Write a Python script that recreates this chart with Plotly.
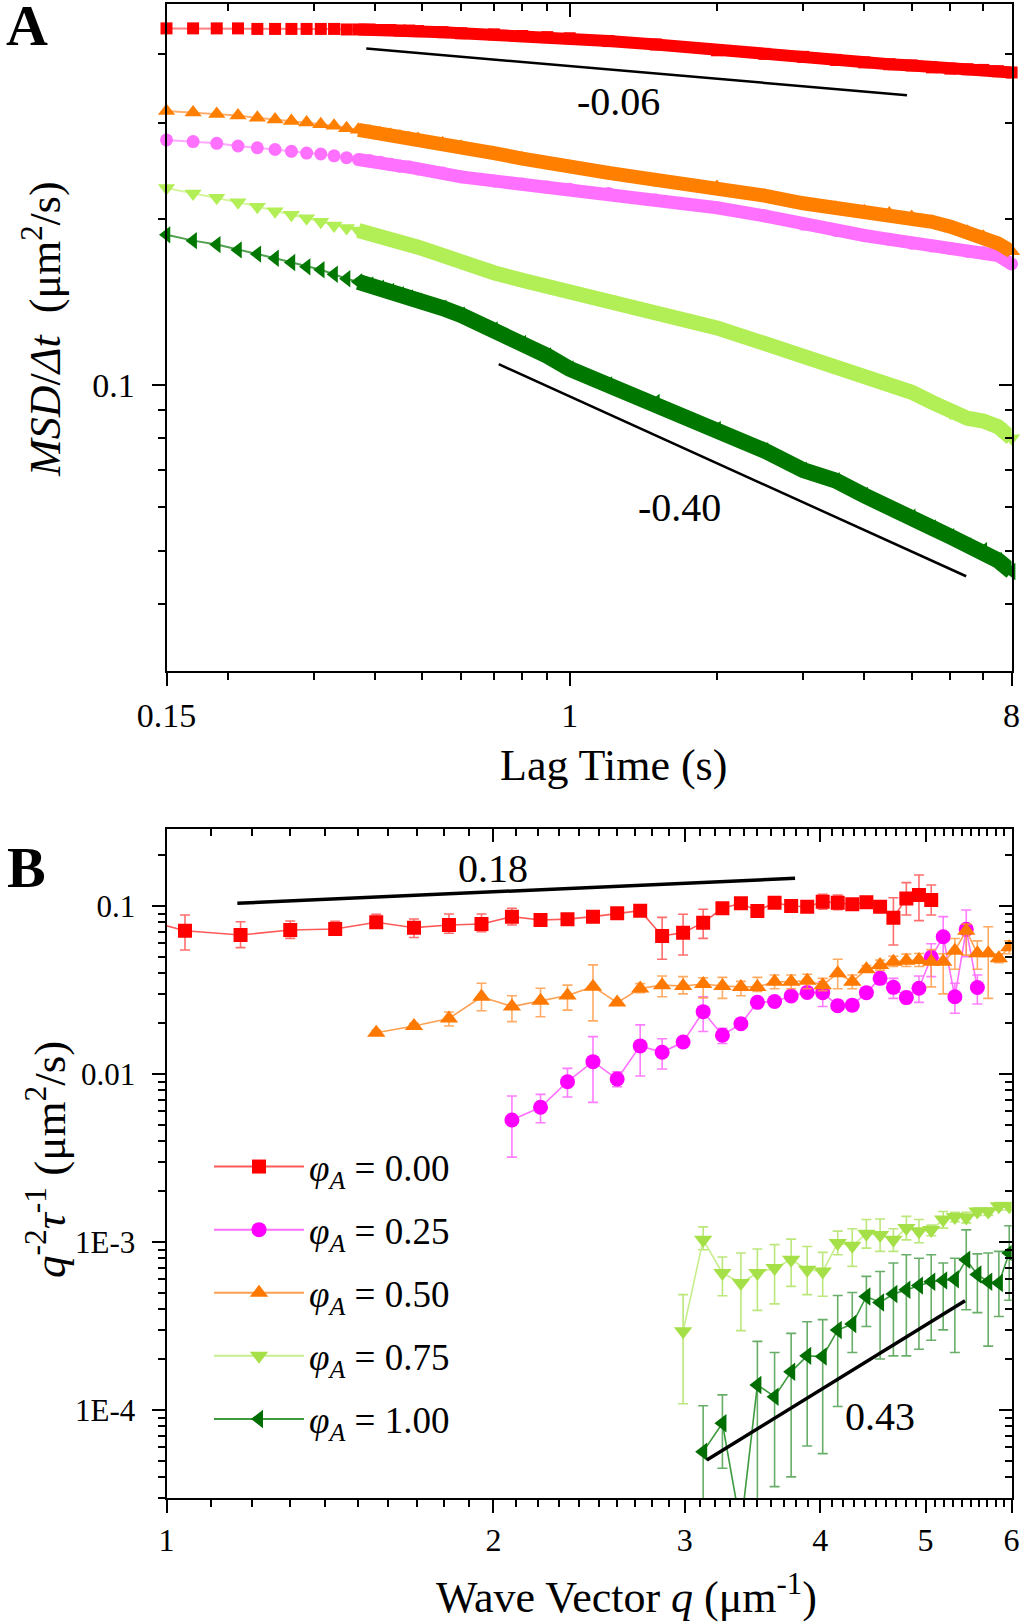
import math
import plotly.graph_objects as go

FONT = "Liberation Serif, Times New Roman, serif"

# ---------------- Panel A data: MSD/dt vs lag time ----------------
lag_time = [0.15, 0.17, 0.19, 0.21, 0.23, 0.25, 0.27, 0.29, 0.31, 0.33, 0.35, 0.37, 0.39,
            0.41, 0.43, 0.45, 0.47, 0.49, 0.55, 0.6, 0.7, 0.8, 0.9, 1.0, 1.2, 1.5, 2.0,
            2.5, 3.0, 3.5, 4.0, 4.5, 5.0, 5.5, 6.0, 6.5, 7.0, 7.5, 8.0]
msd_phi000 = [0.445, 0.445, 0.445, 0.445, 0.444, 0.444, 0.444, 0.444, 0.444, 0.444, 0.443, 0.443,
              0.443, 0.442, 0.442, 0.441, 0.441, 0.440, 0.438, 0.436, 0.434, 0.431, 0.429, 0.427,
              0.422, 0.416, 0.406, 0.400, 0.395, 0.390, 0.386, 0.383, 0.381, 0.378, 0.376, 0.375,
              0.374, 0.372, 0.370]
msd_phi025 = [0.279, 0.277, 0.275, 0.272, 0.270, 0.268, 0.266, 0.264, 0.263, 0.261, 0.259, 0.257,
              0.256, 0.254, 0.252, 0.250, 0.249, 0.247, 0.243, 0.239, 0.235, 0.232, 0.229, 0.227,
              0.223, 0.217, 0.210, 0.203, 0.196, 0.191, 0.187, 0.184, 0.181, 0.179, 0.177, 0.175,
              0.174, 0.172, 0.166]
msd_phi050 = [0.315, 0.313, 0.311, 0.309, 0.306, 0.304, 0.302, 0.300, 0.298, 0.296, 0.293, 0.291,
              0.289, 0.287, 0.285, 0.283, 0.281, 0.280, 0.275, 0.271, 0.264, 0.258, 0.253, 0.249,
              0.243, 0.236, 0.229, 0.221, 0.214, 0.210, 0.207, 0.205, 0.202, 0.198, 0.194, 0.190,
              0.186, 0.181, 0.175]
msd_phi075 = [0.228, 0.223, 0.219, 0.215, 0.211, 0.207, 0.204, 0.201, 0.198, 0.195, 0.193, 0.191,
              0.189, 0.187, 0.184, 0.182, 0.180, 0.178, 0.172, 0.167, 0.160, 0.155, 0.151, 0.148,
              0.143, 0.136, 0.127, 0.119, 0.113, 0.108, 0.104, 0.1005, 0.097, 0.093, 0.089, 0.087,
              0.086, 0.084, 0.080]
msd_phi100 = [0.1875, 0.183, 0.180, 0.176, 0.173, 0.170, 0.167, 0.164, 0.162, 0.159, 0.156, 0.154,
              0.152, 0.150, 0.148, 0.146, 0.144, 0.142, 0.138, 0.134, 0.126, 0.119, 0.113, 0.107,
              0.100, 0.093, 0.083, 0.076, 0.070, 0.067, 0.063, 0.0595, 0.0575, 0.055, 0.053, 0.051,
              0.050, 0.048, 0.0458]
band_start = 11  # from here on the markers overlap into a continuous band

guide_a1_t = [0.384, 4.89]
guide_a1_v = [0.409, 0.3365]
guide_a2_t = [0.716, 6.46]
guide_a2_v = [0.1091, 0.0449]

# ---------------- Panel B data: q^-2 tau^-1 vs wave vector ----------------
wave_vector = [0.91, 1.04, 1.17, 1.30, 1.43, 1.56, 1.69, 1.82, 1.95, 2.08, 2.21, 2.34, 2.47, 2.60,
               2.73, 2.86, 2.99, 3.12, 3.25, 3.38, 3.50, 3.63, 3.76, 3.89, 4.02, 4.15, 4.28, 4.41,
               4.54, 4.67, 4.80, 4.93, 5.06, 5.19, 5.32, 5.45, 5.58, 5.71, 5.84, 5.97]

d_phi000 = [0.090, 0.0713, 0.0672, 0.0720, 0.0730, 0.0800, 0.0743, 0.0770, 0.0781, 0.0864, 0.0825,
            0.0835, 0.0864, 0.0905, 0.0938, 0.0663, 0.0694, 0.0796, 0.0969, 0.1038, 0.0934, 0.1046,
            0.1000, 0.0990, 0.1060, 0.1046, 0.1023, 0.1051, 0.0990, 0.0852, 0.1110, 0.1163, 0.1086]
d_phi000_hi = [0.100, 0.0884, 0.0806, 0.0814, 0.0810, 0.0893, 0.0837, 0.0896, 0.0896, 0.0969, 0.0896,
               0.0900, 0.0930, 0.0960, 0.0990, 0.0856, 0.0893, 0.0956, 0.1028, 0.1096, 0.0980, 0.1110,
               0.1060, 0.1060, 0.1174, 0.1160, 0.1080, 0.1100, 0.1040, 0.1120, 0.1377, 0.1530, 0.1334]
d_phi000_lo = [0.080, 0.0547, 0.0565, 0.0642, 0.0672, 0.0737, 0.0650, 0.0688, 0.0703, 0.0770, 0.0770,
               0.0780, 0.0800, 0.0850, 0.0880, 0.0482, 0.0511, 0.0642, 0.0912, 0.0977, 0.0883, 0.0994,
               0.0950, 0.0930, 0.0956, 0.0950, 0.0970, 0.0990, 0.0940, 0.0586, 0.0884, 0.0818, 0.0884]
start_phi000 = 0

d_phi025 = [0.00532, 0.00634, 0.0090, 0.01184, 0.00933, 0.0147, 0.01346, 0.0155, 0.0235, 0.0170,
            0.0199, 0.0267, 0.0270, 0.0291, 0.0306, 0.0305, 0.0255, 0.0257, 0.0305, 0.0371, 0.0328,
            0.0285, 0.0324, 0.0495, 0.0656, 0.0288, 0.0726, 0.0327]
d_phi025_hi = [0.00739, 0.00756, 0.0108, 0.0167, 0.0103, 0.0196, 0.0162, 0.0165, 0.0288, 0.0187,
               0.0210, 0.0283, 0.0285, 0.0305, 0.0320, 0.0354, 0.0275, 0.0275, 0.0320, 0.0403, 0.0371,
               0.0310, 0.0383, 0.0596, 0.0864, 0.0347, 0.0947, 0.0388]
d_phi025_lo = [0.0032, 0.00513, 0.0073, 0.00678, 0.0084, 0.00973, 0.0107, 0.0146, 0.0179, 0.0152,
               0.0188, 0.0252, 0.0256, 0.0278, 0.0292, 0.0252, 0.0240, 0.0238, 0.0290, 0.0342, 0.0282,
               0.0265, 0.0267, 0.0380, 0.0489, 0.0230, 0.0499, 0.0261]
start_phi025 = 9

d_phi050 = [0.0176, 0.0193, 0.0214, 0.0288, 0.0252, 0.0273, 0.0293, 0.0331, 0.0266, 0.0323, 0.0338,
            0.0334, 0.0343, 0.0334, 0.0330, 0.0330, 0.0354, 0.0354, 0.0359, 0.0338, 0.0398, 0.0354,
            0.0420, 0.0446, 0.0466, 0.0472, 0.0477, 0.0466, 0.0466, 0.0542, 0.0713, 0.0523, 0.0523,
            0.0489, 0.0568]
d_phi050_hi = [0.0182, 0.0200, 0.0234, 0.0347, 0.0292, 0.0324, 0.0338, 0.0446, 0.0275, 0.0345, 0.0383,
               0.0380, 0.0374, 0.0376, 0.0356, 0.0376, 0.0388, 0.0388, 0.0392, 0.0371, 0.0482, 0.0388,
               0.0442, 0.0476, 0.0502, 0.0517, 0.0522, 0.0550, 0.0520, 0.0640, 0.0780, 0.0620, 0.0753,
               0.0520, 0.0620]
d_phi050_lo = [0.0170, 0.0187, 0.0193, 0.0238, 0.0205, 0.0219, 0.0240, 0.0207, 0.0258, 0.0305, 0.0288,
               0.0300, 0.0284, 0.0282, 0.0292, 0.0310, 0.0322, 0.0322, 0.0322, 0.0313, 0.0322, 0.0322,
               0.0405, 0.0415, 0.0436, 0.0436, 0.0436, 0.0330, 0.0300, 0.0420, 0.0510, 0.0420, 0.0282,
               0.0460, 0.0520]
start_phi050 = 5

d_phi075 = [0.000294, 0.00103, 0.000654, 0.00057, 0.000654, 0.00070, 0.000785, 0.000684, 0.000668,
            0.000986, 0.00095, 0.00112, 0.00110, 0.00103, 0.00121, 0.00116, 0.00118, 0.00136, 0.00141,
            0.00140, 0.00152, 0.00152, 0.00163, 0.00163]
d_phi075_hi = [0.000486, 0.00123, 0.000814, 0.00086, 0.000908, 0.000964, 0.00104, 0.00094, 0.000867,
               0.00116, 0.00120, 0.00136, 0.00137, 0.00120, 0.00142, 0.00136, 0.00126, 0.00152, 0.00150,
               0.00150, 0.00160, 0.00160, 0.00172, 0.00172]
d_phi075_lo = [0.000109, 0.00090, 0.000479, 0.000297, 0.000392, 0.000428, 0.000544, 0.000486, 0.000475,
               0.00084, 0.000716, 0.00092, 0.00088, 0.00088, 0.00103, 0.00099, 0.00109, 0.00121, 0.00132,
               0.00130, 0.00144, 0.00144, 0.00155, 0.00155]
start_phi075 = 16

d_phi100 = [5.65e-5, 8.34e-5, 2.0e-5, 1.41e-4, 1.20e-4, 1.69e-4, 2.10e-4, 2.08e-4, 2.99e-4, 3.25e-4,
            4.74e-4, 4.37e-4, 4.90e-4, 5.20e-4, 5.50e-4, 5.80e-4, 5.90e-4, 6.00e-4, 7.85e-4, 6.40e-4,
            5.80e-4, 5.70e-4, 8.60e-4]
d_phi100_hi = [1.06e-4, 1.23e-4, 2.8e-5, 2.56e-4, 2.20e-4, 2.86e-4, 3.35e-4, 3.45e-4, 4.80e-4, 5.00e-4,
               6.24e-4, 6.68e-4, 7.50e-4, 8.40e-4, 8.00e-4, 8.40e-4, 7.50e-4, 8.00e-4, 1.18e-3, 8.50e-4,
               8.60e-4, 8.80e-4, 1.25e-3]
d_phi100_lo = [1.0e-5, 4.5e-5, 1.0e-5, 1.0e-5, 3.5e-5, 4.0e-5, 6.1e-5, 5.5e-5, 1.05e-4, 2.2e-4,
               3.14e-4, 2.01e-4, 2.10e-4, 2.10e-4, 2.30e-4, 2.60e-4, 3.00e-4, 2.20e-4, 3.95e-4, 3.80e-4,
               2.40e-4, 3.60e-4, 4.50e-4]
start_phi100 = 17

guide_b1_q = [1.162, 3.791]
guide_b1_v = [0.1038, 0.1462]
guide_b2_q = [3.144, 5.436]
guide_b2_v = [5.04e-5, 4.47e-4]

phi_labels = ["0.00", "0.25", "0.50", "0.75", "1.00"]

# ---------------- styles ----------------
mark_colors_a = ["#FF0000", "#FF70FF", "#FF7F00", "#B2EE55", "#007800"]
line_colors_a = ["#FF8080", "#FFA8FF", "#FFB070", "#D2F59A", "#4FA04F"]
mark_colors_b = ["#FF0000", "#FF00FF", "#FF7800", "#A6E048", "#006E00"]
line_colors_b = ["#FF5A5A", "#FF70FF", "#FFA050", "#C6EE8C", "#3E9A3E"]
err_colors_b = ["rgba(255,60,60,0.75)", "rgba(255,80,255,0.75)", "rgba(255,150,60,0.8)",
                "rgba(170,225,90,0.8)", "rgba(40,140,40,0.7)"]
symbols = ["square", "circle", "triangle-up", "triangle-down", "triangle-left"]
sizes_a = [12, 13, 15, 15, 15]
band_widths = [12, 13, 14, 15, 16]
sizes_b = [14, 15, 16, 16, 16]

fig = go.Figure()

# Panel A series
series_a = [msd_phi000, msd_phi025, msd_phi050, msd_phi075, msd_phi100]
for i, vals in enumerate(series_a):
    fig.add_trace(go.Scatter(
        x=lag_time, y=vals, mode="lines+markers",
        line=dict(color=line_colors_a[i], width=2),
        marker=dict(symbol=symbols[i], size=sizes_a[i], color=mark_colors_a[i], line=dict(width=0)),
        xaxis="x", yaxis="y", showlegend=False, hoverinfo="skip", cliponaxis=False))
    fig.add_trace(go.Scatter(
        x=lag_time[band_start:], y=vals[band_start:], mode="lines",
        line=dict(color=mark_colors_a[i], width=band_widths[i]), xaxis="x", yaxis="y",
        showlegend=False, hoverinfo="skip", cliponaxis=False))

for gx, gy in [(guide_a1_t, guide_a1_v), (guide_a2_t, guide_a2_v)]:
    fig.add_trace(go.Scatter(x=gx, y=gy, mode="lines", line=dict(color="black", width=2.5),
                             xaxis="x", yaxis="y", showlegend=False, hoverinfo="skip"))

# Panel B series
series_b = [
    (start_phi000, d_phi000, d_phi000_hi, d_phi000_lo),
    (start_phi025, d_phi025, d_phi025_hi, d_phi025_lo),
    (start_phi050, d_phi050, d_phi050_hi, d_phi050_lo),
    (start_phi075, d_phi075, d_phi075_hi, d_phi075_lo),
    (start_phi100, d_phi100, d_phi100_hi, d_phi100_lo),
]
for i, (s, v, hi, lo) in enumerate(series_b):
    qx = wave_vector[s:s + len(v)]
    fig.add_trace(go.Scatter(
        x=qx, y=v, mode="lines+markers",
        line=dict(color=line_colors_b[i], width=1.6),
        marker=dict(symbol=symbols[i], size=sizes_b[i], color=mark_colors_b[i], line=dict(width=0)),
        error_y=dict(type="data", symmetric=False,
                     array=[h - a for h, a in zip(hi, v)],
                     arrayminus=[a - l for l, a in zip(lo, v)],
                     color=err_colors_b[i], thickness=1.6, width=5),
        xaxis="x2", yaxis="y2", showlegend=False, hoverinfo="skip"))

for gx, gy in [(guide_b1_q, guide_b1_v), (guide_b2_q, guide_b2_v)]:
    fig.add_trace(go.Scatter(x=gx, y=gy, mode="lines", line=dict(color="black", width=3.5),
                             xaxis="x2", yaxis="y2", showlegend=False, hoverinfo="skip"))

# legend entries
for i, lab in enumerate(phi_labels):
    fig.add_trace(go.Scatter(
        x=[None], y=[None], mode="lines+markers",
        line=dict(color=line_colors_b[i], width=2),
        marker=dict(symbol=symbols[i], size=sizes_b[i], color=mark_colors_b[i]),
        name="<i>φ</i><sub><i>A</i></sub> = " + lab, legendgroup="g%d" % i,
        xaxis="x2", yaxis="y2", showlegend=True))

# empty traces so that the mirrored (inward tick) axes get drawn
for xa, ya in [("x3", "y"), ("x", "y3"), ("x4", "y2"), ("x2", "y4")]:
    fig.add_trace(go.Scatter(x=[None], y=[None], mode="markers", xaxis=xa, yaxis=ya,
                             showlegend=False, hoverinfo="skip"))

# ---------------- axes ----------------
W, H = 1021, 1622
ax_l, ax_r = 166.5 / W, 1011.6 / W
dom_a = [1 - 671 / H, 1 - 4 / H]
dom_b = [1 - 1498 / H, 1 - 829 / H]

xa_major = [0.15, 1, 8]
xa_minor = [0.2, 0.3, 0.4, 0.5, 0.6, 0.7, 0.8, 0.9, 2, 3, 4, 5, 6, 7]
ya_major = [0.1]
ya_minor = [0.04, 0.05, 0.06, 0.07, 0.08, 0.09, 0.2, 0.3, 0.4]
xb_major = [1, 2, 3, 4, 5, 6]
xb_minor = [round(a + b / 10, 1) for a in range(1, 6) for b in range(1, 10)]
yb_major = [1e-4, 1e-3, 0.01, 0.1]
yb_minor = [m * 10 ** e for e in range(-5, 0) for m in range(2, 10) if 3e-5 <= m * 10 ** e <= 0.29]


def axis(rng, dom, major, text, minor, side, anchor, fsize=32, inside=False, overlay=None,
         show=True, standoff=10):
    d = dict(type="log", range=rng, showgrid=False, zeroline=False, automargin=False,
             tickmode="array", tickvals=major, ticktext=text if show else None,
             showticklabels=show, ticks="inside" if inside else "outside",
             ticklen=13, tickwidth=2, tickcolor="black",
             minor=dict(tickmode="array", tickvals=minor, ticks="inside" if inside else "outside",
                        ticklen=7, tickwidth=1.6, tickcolor="black", showgrid=False),
             tickfont=dict(family=FONT, size=fsize, color="black"),
             side=side, anchor=anchor, fixedrange=True)
    if overlay:
        d["overlaying"] = overlay
        d["showline"] = False
    else:
        d["domain"] = dom
        d["showline"] = True
        d["linecolor"] = "black"
        d["linewidth"] = 2
        d["mirror"] = True
        d["ticklabelstandoff"] = standoff
    return d


xr_a = [math.log10(0.15), math.log10(8)]
yr_a = [-1.52, -0.3073]
xr_b = [0, math.log10(6)]
yr_b = [-4.5238, -0.5417]

fig.update_layout(
    xaxis=axis(xr_a, [ax_l, ax_r], xa_major, ["0.15", "1", "8"], xa_minor, "bottom", "y",
               fsize=34, standoff=0),
    yaxis=axis(yr_a, dom_a, ya_major, ["0.1"], ya_minor, "left", "x", fsize=34),
    xaxis3=axis(xr_a, None, xa_major, None, xa_minor, "top", "y", inside=True, overlay="x", show=False),
    yaxis3=axis(yr_a, None, ya_major, None, ya_minor, "right", "x", inside=True, overlay="y", show=False),
    xaxis2=axis(xr_b, [ax_l, ax_r], xb_major, [str(v) for v in xb_major], xb_minor, "bottom", "y2",
                fsize=32, standoff=0),
    yaxis2=axis(yr_b, dom_b, yb_major, ["1E-4", "1E-3", "0.01", "0.1"], yb_minor, "left", "x2", fsize=31),
    xaxis4=axis(xr_b, None, xb_major, None, xb_minor, "top", "y2", inside=True, overlay="x2", show=False),
    yaxis4=axis(yr_b, None, yb_major, None, yb_minor, "right", "x2", inside=True, overlay="y2", show=False),
)

# ---------------- annotations ----------------
ann = []


def paper_text(txt, x, y, size, angle=0, bold=False):
    if bold:
        txt = "<b>" + txt + "</b>"
    ann.append(dict(text=txt, x=x / W, y=1 - y / H, xref="paper", yref="paper",
                    showarrow=False, textangle=angle, xanchor="center", yanchor="middle",
                    font=dict(family=FONT, size=size, color="black")))


paper_text("A", 27, 25, 58, bold=True)
paper_text("B", 26, 867, 58, bold=True)
paper_text("Lag Time (s)", 613, 765, 44)
paper_text("Wave Vector <i>q</i> (μm<sup>-1</sup>)", 626, 1594, 44)
paper_text("<i>MSD</i>/<i>Δt</i>  (μm<sup>2</sup>/s)", 43, 329, 44, angle=-90)
paper_text("<i>q</i><sup>-2</sup><i>τ</i><sup>-1</sup> (μm<sup>2</sup>/s)", 46, 1160, 45, angle=-90)


def data_text(txt, x, y, xr, yr):
    ann.append(dict(text=txt, x=math.log10(x), y=math.log10(y), xref=xr, yref=yr,
                    showarrow=False, xanchor="center", yanchor="middle",
                    font=dict(family=FONT, size=40, color="black")))


data_text("-0.06", 1.26, 0.328, "x", "y")
data_text("-0.40", 1.676, 0.060, "x", "y")
data_text("0.18", 2.0, 0.1677, "x2", "y2")
data_text("0.43", 4.54, 9.1e-5, "x2", "y2")

fig.update_layout(
    annotations=ann,
    width=W, height=H,
    margin=dict(l=0, r=0, t=0, b=0, autoexpand=False),
    paper_bgcolor="white", plot_bgcolor="white",
    hovermode=False,
    legend=dict(x=209 / W, y=1 - 1136 / H, xanchor="left", yanchor="top",
                font=dict(family=FONT, size=37, color="black"),
                bgcolor="rgba(0,0,0,0)", tracegroupgap=12, itemwidth=90,
                itemsizing="trace"),
)

fig.write_html("out.html", config={"displayModeBar": False},
               post_script="document.body.style.margin='0px';")
